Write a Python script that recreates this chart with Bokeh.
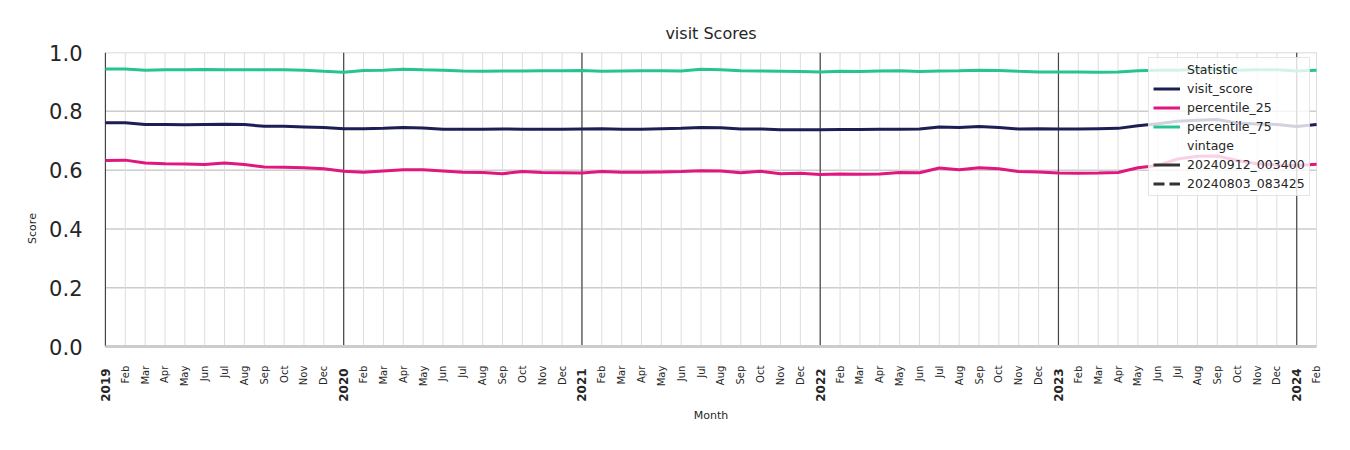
import math
from bokeh.plotting import figure
from bokeh.models import (Range1d, FixedTicker, Legend, LegendItem, ColumnDataSource)
from bokeh.core.properties import value
from bokeh.embed import file_html
from bokeh.resources import INLINE

# ---------------- data ----------------
years = ["2019", "2020", "2021", "2022", "2023", "2024"]
month_abbr = ["Feb", "Mar", "Apr", "May", "Jun", "Jul", "Aug", "Sep", "Oct", "Nov", "Dec"]
n_months = 62  # Jan 2019 .. Feb 2024

visit_score = [
    0.761, 0.761, 0.755, 0.755, 0.754, 0.755, 0.756, 0.755, 0.749, 0.749, 0.747, 0.745,
    0.741, 0.741, 0.742, 0.745, 0.743, 0.739, 0.739, 0.739, 0.740, 0.739, 0.739, 0.739,
    0.740, 0.741, 0.739, 0.739, 0.741, 0.742, 0.745, 0.744, 0.740, 0.740, 0.737, 0.737,
    0.737, 0.738, 0.738, 0.739, 0.739, 0.740, 0.747, 0.745, 0.748, 0.745, 0.740, 0.741,
    0.740, 0.740, 0.741, 0.742, 0.751, 0.758, 0.766, 0.770, 0.772, 0.760, 0.757, 0.755,
    0.748, 0.755,
]
percentile_25 = [
    0.633, 0.634, 0.624, 0.622, 0.621, 0.619, 0.624, 0.619, 0.611, 0.610, 0.608, 0.605,
    0.596, 0.593, 0.597, 0.601, 0.601, 0.597, 0.593, 0.592, 0.588, 0.595, 0.592, 0.591,
    0.590, 0.595, 0.593, 0.593, 0.594, 0.595, 0.598, 0.597, 0.591, 0.596, 0.588, 0.589,
    0.585, 0.587, 0.586, 0.587, 0.592, 0.591, 0.607, 0.601, 0.608, 0.605, 0.595, 0.594,
    0.590, 0.589, 0.590, 0.592, 0.608, 0.616, 0.638, 0.647, 0.648, 0.633, 0.622, 0.617,
    0.616, 0.620,
]
percentile_75 = [
    0.944, 0.944, 0.940, 0.941, 0.941, 0.942, 0.941, 0.941, 0.941, 0.941, 0.940, 0.936,
    0.933, 0.939, 0.940, 0.943, 0.941, 0.940, 0.937, 0.936, 0.937, 0.937, 0.938, 0.938,
    0.939, 0.936, 0.937, 0.938, 0.938, 0.937, 0.943, 0.941, 0.938, 0.937, 0.936, 0.935,
    0.934, 0.936, 0.935, 0.937, 0.938, 0.935, 0.937, 0.938, 0.940, 0.939, 0.936, 0.934,
    0.934, 0.934, 0.933, 0.934, 0.938, 0.940, 0.940, 0.942, 0.942, 0.940, 0.941, 0.941,
    0.937, 0.940,
]
y_ticks = [0.0, 0.2, 0.4, 0.6, 0.8, 1.0]
y_tick_labels = ["0.0", "0.2", "0.4", "0.6", "0.8", "1.0"]
series_names = ["visit_score", "percentile_25", "percentile_75"]
vintages = ["20240912_003400", "20240803_083425"]

# ---------------- derived ----------------
x = list(range(n_months))
tick_labels = []
for yr in years:
    tick_labels.append(yr)
    tick_labels.extend(month_abbr)
tick_labels = tick_labels[:n_months]
year_pos = [i for i, t in enumerate(tick_labels) if t in years]
month_pos = [i for i, t in enumerate(tick_labels) if t not in years]
y_lo, y_hi = y_ticks[0], y_ticks[-1]
x_lo, x_hi = x[0], x[-1]

FONT = "DejaVu Sans"
TXT = "#262626"
colors = ["#1d1e55", "#e0177f", "#26c493"]

# frame extends a little beyond the data area so that tick texts (months normal,
# years bold) can be drawn inside it
p = figure(width=1350, height=450, output_backend="svg", toolbar_location=None,
           x_range=Range1d(x_lo - 0.5, x_hi + 0.5), y_range=Range1d(-0.197, 1),
           min_border_left=95, min_border_right=24, min_border_top=52,
           min_border_bottom=46, title="visit Scores")
p.outline_line_color = None
p.background_fill_color = "white"
p.border_fill_color = "white"

p.title.align = "center"
p.title.text_font = FONT
p.title.text_font_size = "16px"
p.title.text_font_style = "normal"
p.title.text_color = TXT
p.title.standoff = 19

# grids (drawn only over the data area)
p.xgrid.visible = False
p.ygrid.visible = False
hg = y_ticks[1:]
hgrid = ColumnDataSource(dict(y=hg, x0=[x_lo] * len(hg), x1=[x_hi] * len(hg)))
p.segment(x0="x0", y0="y", x1="x1", y1="y", source=hgrid,
          line_color="#cccccc", line_width=1.5, level="underlay")
mgrid = ColumnDataSource(dict(x=x, y0=[y_lo] * len(x), y1=[y_hi] * len(x)))
p.segment(x0="x", y0="y0", x1="x", y1="y1", source=mgrid,
          line_color="#dddddd", line_width=1, level="underlay")
ygrid_src = ColumnDataSource(dict(x=year_pos, y0=[y_lo] * len(year_pos), y1=[y_hi] * len(year_pos)))
p.segment(x0="x", y0="y0", x1="x", y1="y1", source=ygrid_src,
          line_color="#444444", line_width=1.2)
# bottom spine
p.segment(x0=[x_lo], y0=[y_lo], x1=[x_hi], y1=[y_lo], line_color="#cccccc", line_width=3)

# y axis
p.yaxis.ticker = FixedTicker(ticks=y_ticks)
p.yaxis.bounds = (y_lo, y_hi)
p.yaxis.major_label_overrides = {t: l for t, l in zip(y_ticks, y_tick_labels)}
p.yaxis.major_label_text_font = FONT
p.yaxis.major_label_text_font_size = "21px"
p.yaxis.major_label_text_color = TXT
p.yaxis.major_label_standoff = 7
p.yaxis.major_tick_line_color = None
p.yaxis.minor_tick_line_color = None
p.yaxis.axis_line_color = None
p.yaxis.axis_label = "Score"
p.yaxis.axis_label_text_font = FONT
p.yaxis.axis_label_text_font_size = "11px"
p.yaxis.axis_label_text_font_style = "normal"
p.yaxis.axis_label_text_color = TXT
p.yaxis.axis_label_standoff = 7

# x axis (only its title; tick texts drawn below the data area)
p.xaxis.ticker = FixedTicker(ticks=[])
p.xaxis.major_label_text_font_size = "0px"
p.xaxis.major_label_standoff = 0
p.xaxis.major_tick_line_color = None
p.xaxis.minor_tick_line_color = None
p.xaxis.axis_line_color = None
p.xaxis.axis_label = "Month"
p.xaxis.axis_label_text_font = FONT
p.xaxis.axis_label_text_font_size = "11px"
p.xaxis.axis_label_text_font_style = "normal"
p.xaxis.axis_label_text_color = TXT
p.xaxis.axis_label_standoff = 4

month_src = ColumnDataSource(dict(x=month_pos, y=[-0.065] * len(month_pos),
                                  t=[tick_labels[i] for i in month_pos]))
p.text(x="x", y="y", text="t", source=month_src, angle=math.pi / 2,
       text_align="right", text_baseline="middle", text_font=value(FONT),
       text_font_size="10px", text_color=TXT)
year_src = ColumnDataSource(dict(x=year_pos, y=[-0.074] * len(year_pos),
                                 t=[tick_labels[i] for i in year_pos]))
p.text(x="x", y="y", text="t", source=year_src, angle=math.pi / 2,
       text_align="right", text_baseline="middle", text_font=value(FONT),
       text_font_size="12px", text_font_style="bold", text_color=TXT)

# series
renderers = []
for name, vals, c in zip(series_names, [visit_score, percentile_25, percentile_75], colors):
    r = p.line(x, vals, line_color=c, line_width=3)
    renderers.append(r)

# legend helpers (header rows and vintage styles)
nan = float("nan")
hdr1 = p.line([0], [nan], line_alpha=0)
hdr2 = p.line([0], [nan], line_alpha=0)
v1 = p.line([0], [nan], line_color="#333333", line_width=3)
v2 = p.line([0], [nan], line_color="#333333", line_width=3, line_dash="11 5")

items = [LegendItem(label="Statistic", renderers=[hdr1])]
items += [LegendItem(label=n, renderers=[r]) for n, r in zip(series_names, renderers)]
items += [LegendItem(label="vintage", renderers=[hdr2])]
items += [LegendItem(label=vintages[0], renderers=[v1]), LegendItem(label=vintages[1], renderers=[v2])]

legend = Legend(items=items, location=(1053, 208))
legend.margin = 0
legend.padding = 4
legend.spacing = 4
legend.glyph_width = 27
legend.glyph_height = 15
legend.label_height = 15
legend.label_standoff = 7
legend.label_text_font = FONT
legend.label_text_font_size = "12.5px"
legend.label_text_color = TXT
legend.background_fill_color = "white"
legend.background_fill_alpha = 0.8
legend.border_line_color = "#cccccc"
legend.border_line_width = 1.5
p.add_layout(legend, "center")

open("out.html", "w").write(file_html(p, INLINE))
